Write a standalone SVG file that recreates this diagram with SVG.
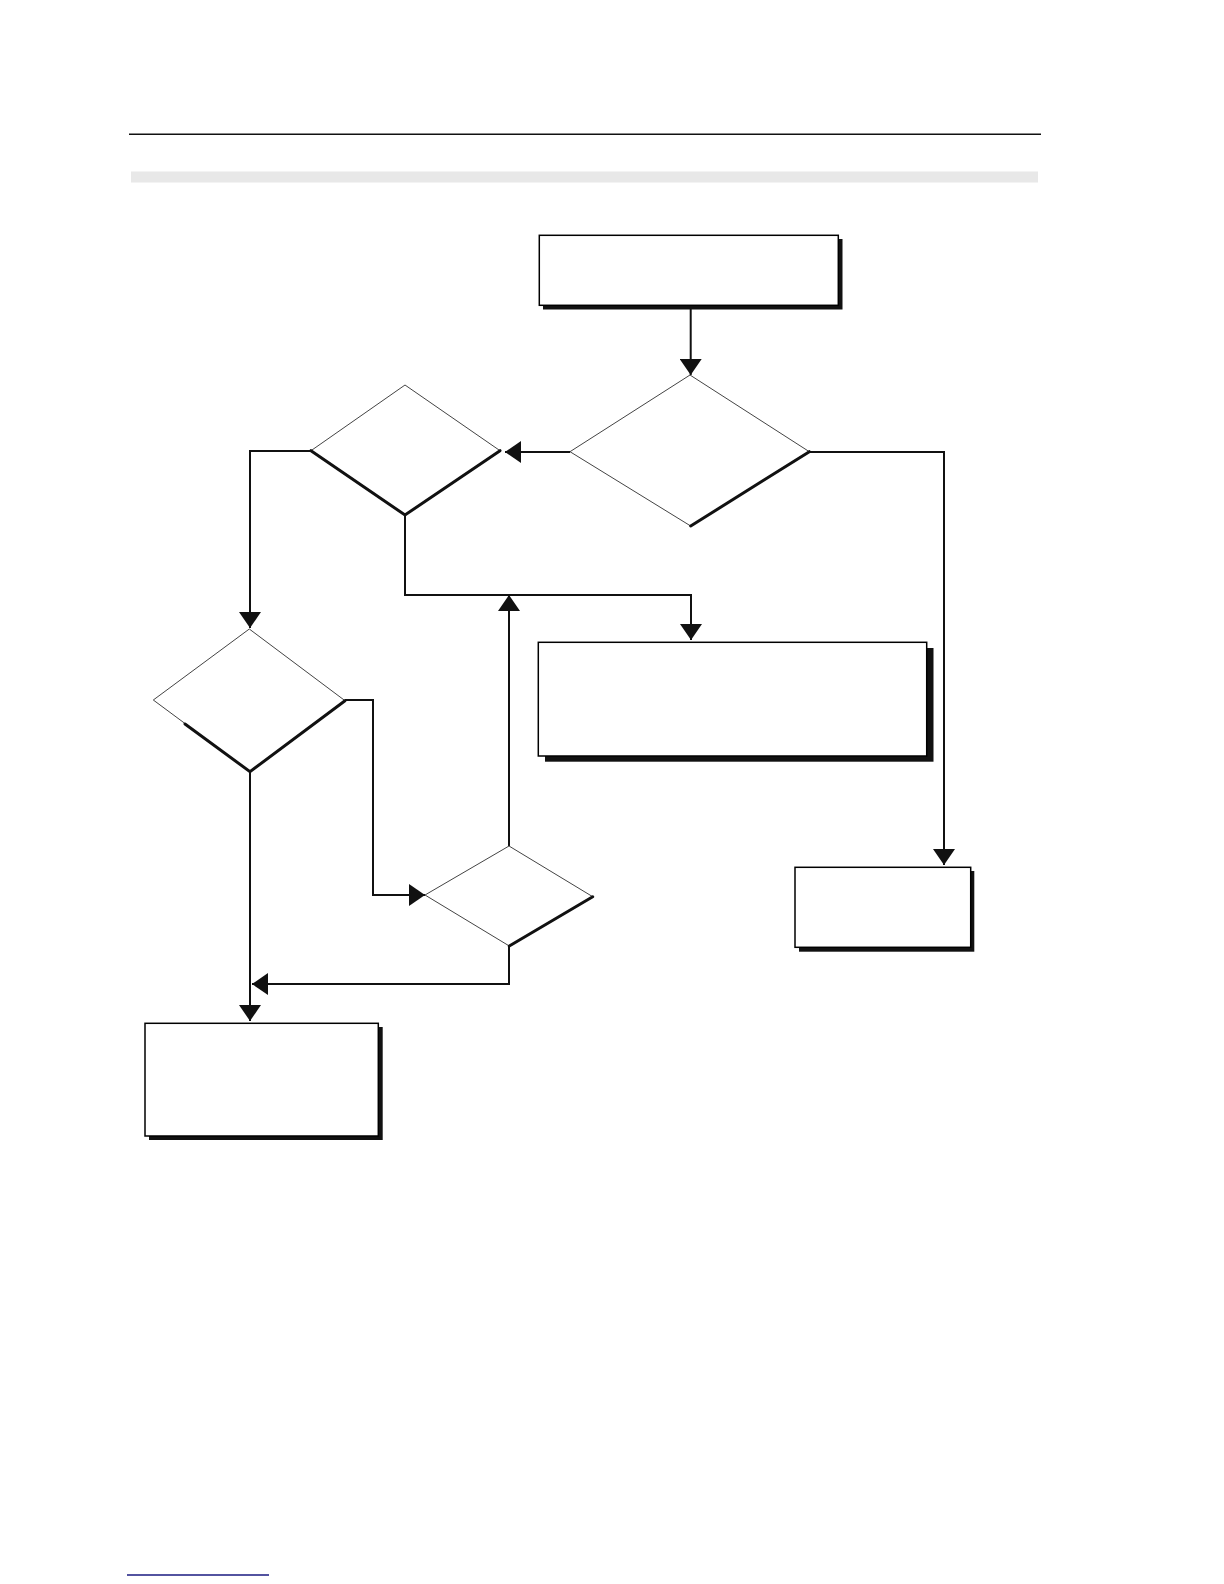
<svg xmlns="http://www.w3.org/2000/svg" width="1224" height="1584" viewBox="0 0 1224 1584">
<style>
.box{fill:#fff;stroke:#000;stroke-width:1.5}
.shadow{fill:#111}
.dia{fill:#fff;stroke:#444;stroke-width:1}
.thick{fill:none;stroke:#111;stroke-width:3;stroke-linecap:round}
.conn{fill:none;stroke:#111;stroke-width:2}
</style>
<defs>
<marker id="arr" markerUnits="userSpaceOnUse" viewBox="0 0 16 22" refX="16" refY="11" markerWidth="16" markerHeight="22" orient="auto">
<path d="M0,0 L16,11 L0,22 z" fill="#111"/>
</marker>
</defs>
<rect width="1224" height="1584" fill="#fff"/>
<line x1="129" y1="134.3" x2="1041" y2="134.3" stroke="#111" stroke-width="1.5"/>
<rect x="131" y="171.5" width="907" height="11" fill="#e8e8e8"/>
<line x1="127" y1="1575" x2="269" y2="1575" stroke="#1a1a80" stroke-width="1.3"/>

<g id="connectors">
<path class="conn" d="M690.7,305 V375" marker-end="url(#arr)"/>
<path class="conn" d="M570,452 H505" marker-end="url(#arr)"/>
<path class="conn" d="M311,451 H250 V628" marker-end="url(#arr)"/>
<path class="conn" d="M405,515 V595 H691 V640" marker-end="url(#arr)"/>
<path class="conn" d="M509,846 V595" marker-end="url(#arr)"/>
<path class="conn" d="M345,700 H373 V895 H425" marker-end="url(#arr)"/>
<path class="conn" d="M250,772 V1021" marker-end="url(#arr)"/>
<path class="conn" d="M509,946 V984 H252" marker-end="url(#arr)"/>
<path class="conn" d="M809,452 H944 V865" marker-end="url(#arr)"/>
</g>

<g id="box-top">
<rect class="shadow" x="543" y="239" width="299.5" height="70.5"/>
<rect class="box" x="539.3" y="235.3" width="299" height="70"/>
</g>
<g id="diamond-1">
<polygon class="dia" points="690,375 809.3,451.7 690.7,526 570,451.7"/>
<path class="thick" d="M690.7,526 L809.3,451.7"/>
</g>
<g id="diamond-2">
<polygon class="dia" points="405,385 500,450.7 405,515 311,450.7"/>
<path class="thick" d="M311,450.7 L405,515 L500,450.7"/>
</g>
<g id="diamond-3">
<polygon class="dia" points="249.3,629 345,700.7 250,771.7 153.3,700"/>
<path class="thick" d="M185,724 L250,771.7 L345,700.7"/>
</g>
<g id="diamond-4">
<polygon class="dia" points="509,846 592.7,896.7 509.3,946 425,895"/>
<path class="thick" d="M509.3,946 L592.7,896.7"/>
</g>
<g id="box-middle">
<rect class="shadow" x="545" y="648" width="388.5" height="113.7"/>
<rect class="box" x="538.3" y="642.3" width="388.4" height="113.7"/>
</g>
<g id="box-right">
<rect class="shadow" x="799" y="871" width="175.3" height="80.7"/>
<rect class="box" x="795" y="867.3" width="175.7" height="80"/>
</g>
<g id="box-bottom">
<rect class="shadow" x="149" y="1027" width="233.7" height="113"/>
<rect class="box" x="145" y="1023.3" width="233.3" height="112.7"/>
</g>
</svg>
